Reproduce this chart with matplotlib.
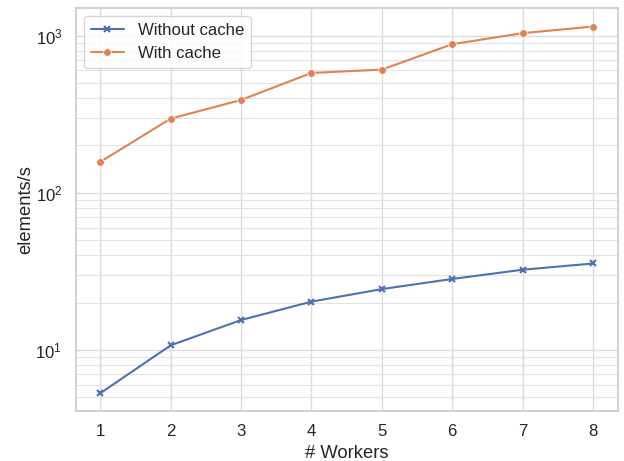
import numpy as np
import matplotlib
matplotlib.use("Agg")
import matplotlib.pyplot as plt
import seaborn as sns

workers = [1, 2, 3, 4, 5, 6, 7, 8]
no_cache = [5.3, 10.7, 15.5, 20.3, 24.4, 28.3, 32.4, 35.5]
with_cache = [157, 296, 389, 578, 607, 881, 1035, 1141]

sns.set_theme(style="whitegrid", font_scale=1.1)
plt.rcParams["font.family"] = ["Liberation Sans", "DejaVu Sans"]

fig, ax = plt.subplots(figsize=(6.24, 4.61), dpi=100)

ax.plot(workers, no_cache, color="#4c72b0", marker="x", markersize=4,
        markeredgewidth=1.5, lw=1.5, label="Without cache")
ax.plot(workers, with_cache, color="#dd8452", marker="o", markersize=5.5,
        markeredgecolor="white", markeredgewidth=0.5, lw=1.5, label="With cache")

ax.set_yscale("log")
ax.set_ylim(4.08, 1500)
ax.grid(which="minor", color="#e3e3e3", lw=0.8)
ax.grid(which="major", color="#dddddd", lw=1.0)
ax.set_xticks(workers)
ax.set_xlabel("# Workers")
ax.set_ylabel("elements/s", labelpad=1)
ax.legend(loc="upper left")
fig.subplots_adjust(left=0.121, right=0.990, top=0.983, bottom=0.108)
fig.savefig("out.png")
